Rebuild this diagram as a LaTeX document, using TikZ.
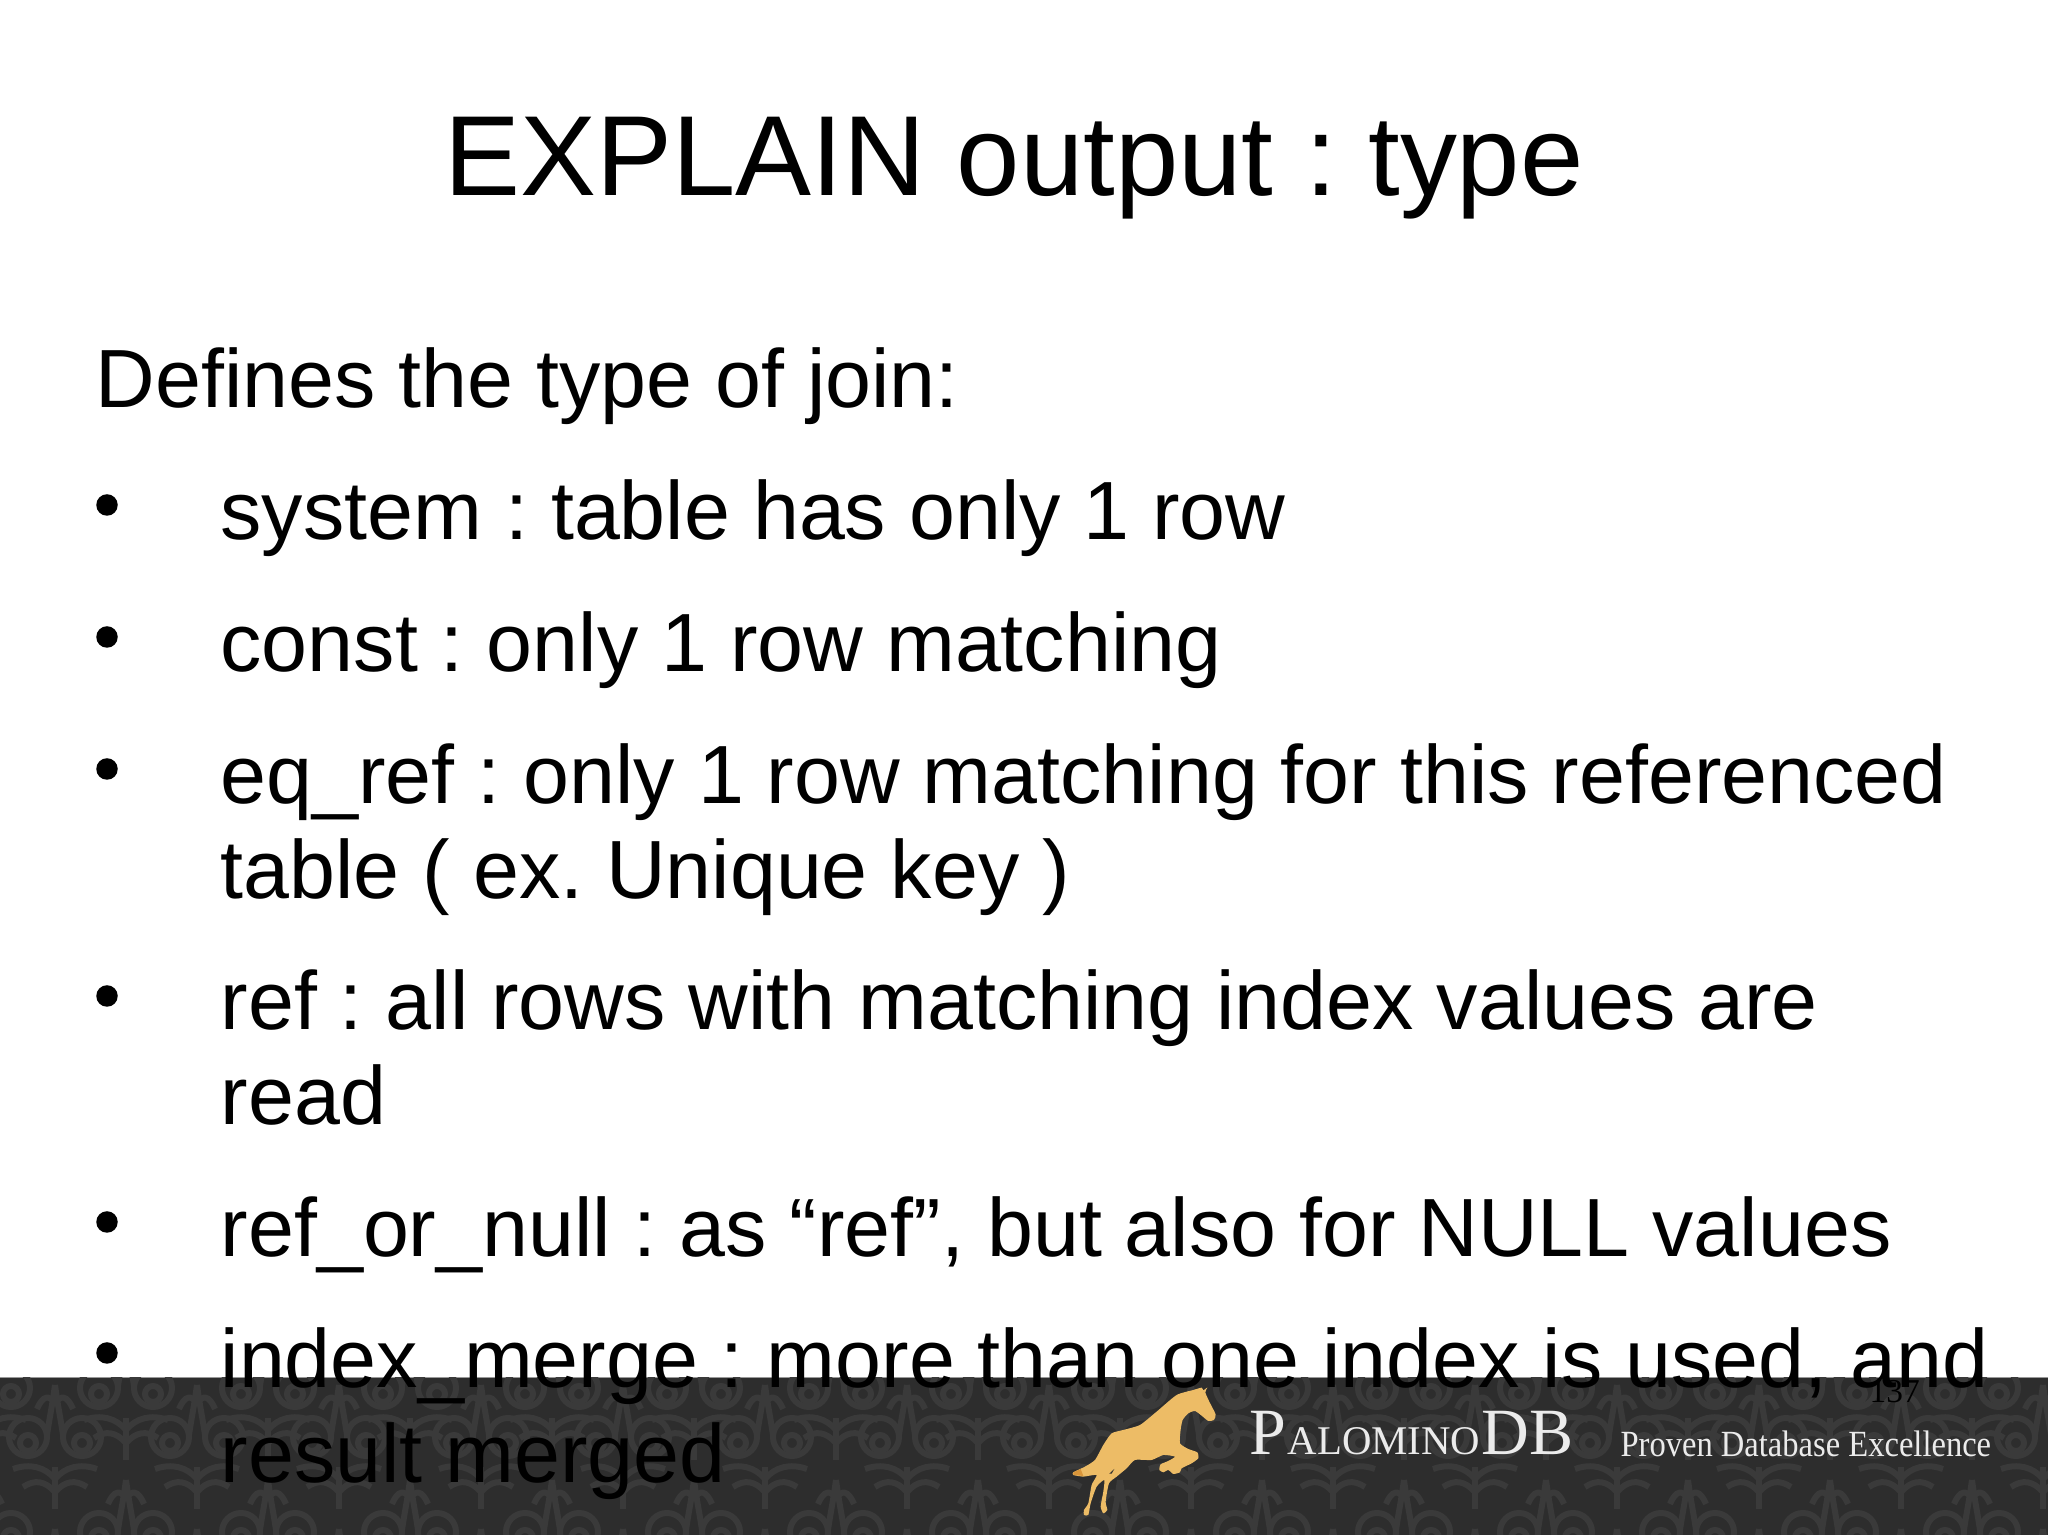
\documentclass[tikz,border=0pt]{standalone}
\usepackage{fontspec}
\setmainfont{Liberation Sans}
\newfontfamily\logofont{Liberation Serif}
\usetikzlibrary{positioning}
\definecolor{bandgray}{HTML}{2D2D2D}
\definecolor{ornamentgray}{HTML}{3A3A3A}
\definecolor{horsegold}{HTML}{EDBC66}
\definecolor{maneorange}{HTML}{D9953A}
\tikzset{
  titletext/.style={anchor=base, inner sep=0pt, font=\fontsize{32.4}{38}\selectfont, text=black},
  bodytext/.style={anchor=base west, inner sep=0pt, font=\fontsize{23.5}{29}\selectfont, text=black},
  dotmark/.style={circle, fill=black, inner sep=0pt, minimum size=0.215cm},
  logotext/.style={anchor=base west, inner sep=0pt, text=white!92!black},
  ornament/.style={ornamentgray, line width=0.6mm}
}
\newcommand{\damaskcell}{
  \draw[ornament] (-0.27,0) circle (0.19);
  \draw[ornament] (0.27,0) circle (0.19);
  \draw[ornament] (-0.27,-0.06) circle (0.08);
  \draw[ornament] (0.27,-0.06) circle (0.08);
  \draw[ornament] (-0.08,0.02)..controls (-0.05,0.22) and (-0.03,0.3) ..(0,0.52);
  \draw[ornament] (0.08,0.02)..controls (0.05,0.22) and (0.03,0.3) ..(0,0.52);
  \draw[ornament] (-0.18,0.28)..controls (-0.12,0.42) and (-0.06,0.42) ..(0,0.34);
  \draw[ornament] (0.18,0.28)..controls (0.12,0.42) and (0.06,0.42) ..(0,0.34);
  \draw[ornament] (-0.42,-0.32)..controls (-0.25,-0.26) and (-0.1,-0.3) ..(0,-0.42);
  \draw[ornament] (0.42,-0.32)..controls (0.25,-0.26) and (0.1,-0.3) ..(0,-0.42);
  \draw[ornament] (-0.32,-0.5)..controls (-0.2,-0.42) and (-0.1,-0.44) ..(0,-0.55);
  \draw[ornament] (0.32,-0.5)..controls (0.2,-0.42) and (0.1,-0.44) ..(0,-0.55);
  \draw[ornament] (0,-0.3)--(0,-0.72);
}
\frenchspacing
\begin{document}
\begin{tikzpicture}
\useasboundingbox (0,0) rectangle (20.48,15.35);
\fill[white] (0,0) rectangle (20.48,15.35);

% footer band
\fill[bandgray] (0,0) rectangle (20.48,1.575);
\draw[gray!80!white, very thin] (0,1.575)--(20.48,1.575);
\begin{scope}
\clip (0,0) rectangle (20.48,1.575);
\foreach \col in {0,...,14}{
  \foreach \rowy in {-0.46,0.98}{
    \begin{scope}[xshift=\col*1.42cm+0.55cm, yshift=\rowy cm]
    \damaskcell
    \end{scope}
  }
  \foreach \rowy in {0.03,1.47}{
    \begin{scope}[xshift=\col*1.42cm-0.16cm, yshift=\rowy cm]
    \damaskcell
    \end{scope}
  }
}
\end{scope}

% horse
\begin{scope}[shift={(10.6,1.6)}, x=0.03333mm, y=-0.03333mm]
\fill[horsegold] plot[smooth cycle, tension=0.35] coordinates {
  (425,38) (430,46) (442,38) (436,52) (448,80) (467,118) (462,135) (445,138)
  (425,122) (405,108) (385,115) (368,135) (362,165) (360,205) (385,222) (412,232)
  (415,250) (395,265) (365,280) (360,292) (340,297) (325,285) (310,292) (298,285)
  (302,268) (325,258) (345,245) (310,240) (275,255) (225,255) (200,280) (170,305)
  (147,325) (137,380) (142,405) (130,415) (122,395) (130,350) (133,315) (110,335)
  (92,385) (85,420) (72,420) (72,405) (85,385) (95,330) (110,300) (70,305)
  (40,300) (40,292) (75,275) (105,255) (130,210) (155,175) (190,165) (240,150)
  (290,110) (350,60) (400,45)};
\fill[maneorange] (40,300)--(40,292)--(62,282)--(70,303)--cycle;
\fill[bandgray] (148,296)--(163,282)--(155,296)--cycle;
\end{scope}

% logo
\node (logop) at (12.49,0.80) [logotext, font=\logofont\fontsize{18.8}{20}\selectfont] {P};
\node (logoname) [logotext, font=\logofont\fontsize{11.6}{12}\selectfont] at (logop.base east) {ALOMINO};
\node (logodb) [logotext, font=\logofont\fontsize{18.8}{20}\selectfont] at (logoname.base east) {DB};
\node (slogan) at (16.20,0.78) [logotext, font=\logofont\fontsize{10.5}{12}\selectfont, xscale=0.882] {Proven Database Excellence};
\node (pagenum) at (18.69,1.32) [anchor=base west, inner sep=0pt, font=\logofont\fontsize{9.5}{10}\selectfont, text=black] {137};

% slide text
\node (title) at (10.14,13.39) [titletext] {EXPLAIN output : type};
\node (intro) at (0.95,11.27) [bodytext] {Defines the type of join:};

\node (systemline) at (2.20,9.95) [bodytext] {system : table has only 1 row};
\node (constline) at (2.20,8.63) [bodytext] {const : only 1 row matching};
\node (eqrefa) at (2.20,7.31) [bodytext] {eq\_ref : only 1 row matching for this referenced};
\node (eqrefb) at (2.20,6.36) [bodytext] {table ( ex. Unique key )};
\node (refa) at (2.20,5.05) [bodytext] {ref : all rows with matching index values are};
\node (refb) at (2.20,4.10) [bodytext] {read};
\node (refnull) at (2.20,2.78) [bodytext] {ref\_or\_null : as “ref”, but also for NULL values};
\node (mergea) at (2.20,1.47) [bodytext] {index\_merge : more than one index is used, and};
\node (mergeb) at (2.20,0.52) [bodytext] {result merged};

\foreach \name/\liney in {systemline/9.96, constline/8.64, eqrefa/7.32, refa/5.05, refnull/2.79, mergea/1.48}{
  \node (dot\name) at (1.07,\liney+0.34) [dotmark] {};
}
\end{tikzpicture}
\end{document}
